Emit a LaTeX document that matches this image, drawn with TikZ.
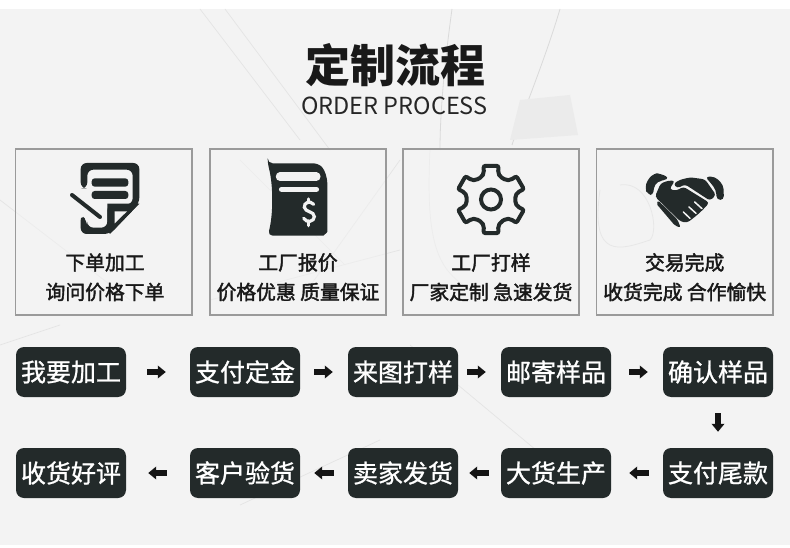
\documentclass[tikz,border=0pt]{standalone}
\usepackage{fontspec}
\usetikzlibrary{arrows.meta}
\newfontfamily\cjk{Noto Sans CJK SC}
\newfontfamily\cjkmed[FakeBold=2.0]{Noto Sans CJK SC}
\newfontfamily\cjkpill[FakeBold=1.0]{Noto Sans CJK SC}
\definecolor{ink}{HTML}{232A2A}
\definecolor{paper}{HTML}{F3F3F3}
\definecolor{boxline}{HTML}{9A9A9A}
\definecolor{sketch}{HTML}{E4E4E4}
\definecolor{sketchb}{HTML}{DADADA}
\definecolor{sketchc}{HTML}{EBEBEB}
\tikzset{
 card/.style={draw=boxline,line width=1.6pt,fill=paper,fill opacity=0.55,text opacity=1,minimum width=176.5pt,minimum height=166pt,inner sep=0pt},
 pill/.style={fill=ink,text=white,rounded corners=8pt,minimum width=110pt,minimum height=50pt,inner sep=0pt,font=\cjkpill\fontsize{25}{25}\selectfont},
 lab/.style={text=black!90,inner sep=0pt,font=\cjkmed\fontsize{19.8}{19.8}\selectfont},
 flow/.style={line width=5.4pt,draw=black!92,-{Triangle[length=8pt,width=12.5pt]}},
 sk/.style={draw=sketch,line width=0.7pt},
 skb/.style={draw=sketchb,line width=0.8pt},
 icon/.style={fill=ink,draw=none}
}
\begin{document}
\begin{tikzpicture}[x=1pt,y=-1pt]
\useasboundingbox (0,0) rectangle (790,548);
\fill[white] (0,0) rectangle (790,548);
\fill[paper] (0,9) rectangle (790,544.5);
% faint sketch in the background
\draw[sk] (200,9) -- (300,140) (225,9) -- (330,150);
\draw[skb] (452,9) .. controls (445,60) and (440,110) .. (440,150);
\draw[skb] (560,9) .. controls (545,60) and (520,120) .. (512,145);
\fill[sketchc] (520,100) -- (570,95) -- (578,135) -- (510,140) -- cycle;
\draw[sk] (400,160) -- (300,300) (210,300) -- (400,250) (240,160) -- (345,265);
\draw[sk] (430,150) .. controls (425,250) and (440,270) .. (470,290);
\draw[skb] (600,190) .. controls (590,260) and (620,250) .. (650,240) .. controls (660,230) and (650,180) .. (620,185);
\draw[sk] (0,345) -- (60,325) (380,440) -- (240,505) (410,345) -- (560,470);
\draw[sk] (0,200) -- (130,300);
% title
\node[inner sep=0pt,font=\cjk\bfseries\fontsize{45}{45}\selectfont,text=black!90] (title) at (395.5,65) {定制流程};
\node[inner sep=0pt,font=\cjk\fontsize{23.5}{23.5}\selectfont,text=black!85] (sub) at (394.5,106) {ORDER PROCESS};
% cards
\node[card] (c1) at (103.7,232) {};
\node[card] (c2) at (298,232) {};
\node[card] (c3) at (491,232) {};
\node[card] (c4) at (684.7,232) {};
\node[lab] (l1a) at (105,262.5) {下单加工};
\node[lab] (l1b) at (105,292) {询问价格下单};
\node[lab] (l2a) at (298,262.5) {工厂报价};
\node[lab] (l2b) at (298,292) {价格优惠 质量保证};
\node[lab] (l3a) at (491,262.5) {工厂打样};
\node[lab] (l3b) at (491,292) {厂家定制 急速发货};
\node[lab] (l4a) at (684.7,262.5) {交易完成};
\node[lab] (l4b) at (684.7,292) {收货完成 合作愉快};
% icon 1
\begin{scope}[shift={(60,155)},scale=1/3]
\fill[icon,rounded corners=6pt] (62,100) -- (62,24) -- (238,24) -- (238,145) -- (150,237) -- (62,237) -- (62,178) -- (82,198) -- (82,218) -- (142,218) -- (142,148) -- (218,148) -- (218,44) -- (82,44) -- (82,100) -- cycle;
\fill[icon] (142,146) -- (238,146) -- (150,237) -- (142,225) -- cycle;
\fill[paper] (164,205) -- (164,169) -- (201,169) -- cycle;
\fill[icon,rounded corners=3pt] (95,70) rectangle (205,95);
\fill[icon,rounded corners=3pt] (95,108) rectangle (205,132);
\draw[ink,line width=4pt,line cap=round] (36,120) -- (120,186);
\end{scope}
% icon 2
\begin{scope}[shift={(255,155)},scale=1/3]
\fill[icon,rounded corners=5pt] (38,25) -- (190,25) .. controls (210,45) and (217,70) .. (217,100) -- (217,215) .. controls (217,232) and (205,242) .. (190,242) -- (38,242) .. controls (55,180) and (55,90) .. (38,25) -- cycle;
\draw[white!95!black,line width=8.5pt,line cap=round] (75,65) -- (184,65);
\draw[white!95!black,line width=5.5pt,line cap=round] (80,103) -- (184,103);
\draw[white!95!black,line width=3.2pt,line cap=round] (176,148) .. controls (165,135) and (146,143) .. (148,157) .. controls (150,172) and (178,168) .. (178,185) .. controls (178,200) and (155,205) .. (146,190);
\draw[white!95!black,line width=3.2pt,line cap=round] (160,132) -- (160,142) (160,200) -- (160,212);
\end{scope}
% icon 3
\begin{scope}[shift={(491,199.5)}]
\draw[ink,line width=4pt,rounded corners=2pt] (66:24.5) \foreach \a in {90,150,210,270,330}{ -- (\a-15:27.5) -- (\a-12.5:34.5) -- (\a+12.5:34.5) -- (\a+15:27.5) -- (\a+22:24.5) -- (\a+38:24.5)} -- (375:27.5) -- (377.5:34.5) -- (402.5:34.5) -- (405:27.5) -- (412:24.5) -- cycle;
\draw[ink,line width=4pt] (0,0) circle (10);
\end{scope}
% icon 4
\begin{scope}[shift={(640,160)},scale=1/3]
\fill[icon,rounded corners=4pt] (15,85) -- (22,60) -- (42,40) -- (58,40) -- (88,53) -- (70,62) -- (52,64) -- (40,85) -- (40,107) -- (22,102) -- cycle;
\fill[icon,rounded corners=4pt] (195,50) -- (225,50) -- (250,75) -- (252,120) -- (230,120) -- (228,90) -- (210,66) -- cycle;
\fill[icon,rounded corners=3pt] (62,70) -- (85,62) -- (105,62) -- (88,88) -- (110,92) -- (130,80) -- (208,128) -- (188,150) -- (168,168) -- (142,188) -- (122,185) -- (45,110) -- cycle;
\fill[icon,rounded corners=3pt] (100,72) -- (118,60) -- (150,52) -- (195,58) -- (228,105) -- (210,122) -- (135,73) -- (112,85) -- cycle;
\fill[icon,rounded corners=2pt] (48,130) -- (55,122) -- (112,178) -- (122,203) -- (105,197) -- cycle;
\draw[paper,line width=1.5pt,line cap=round] (186,146) -- (164,126) (168,160) -- (147,141) (150,175) -- (130,156);
\end{scope}
% flow
\node[pill] (p1) at (71,372) {我要加工};
\node[pill] (p2) at (245,372) {支付定金};
\node[pill] (p3) at (403,372) {来图打样};
\node[pill] (p4) at (556,372) {邮寄样品};
\node[pill] (p5) at (718,372) {确认样品};
\node[pill] (p6) at (718,473) {支付尾款};
\node[pill] (p7) at (556,473) {大货生产};
\node[pill] (p8) at (403,473) {卖家发货};
\node[pill] (p9) at (245,473) {客户验货};
\node[pill] (p10) at (71,473) {收货好评};
\draw[flow] ([xshift=21pt]p1.east) -- ([xshift=-24pt]p2.west);
\draw[flow] ([xshift=14pt]p2.east) -- ([xshift=-15pt]p3.west);
\draw[flow] ([xshift=9pt]p3.east) -- ([xshift=-15pt]p4.west);
\draw[flow] ([xshift=18pt]p4.east) -- ([xshift=-15pt]p5.west);
\draw[flow] ([yshift=-16pt]p5.south) -- ([yshift=16pt]p6.north);
\draw[flow] ([xshift=-14pt]p6.west) -- ([xshift=18pt]p7.east);
\draw[flow] ([xshift=-12pt]p7.west) -- ([xshift=11pt]p8.east);
\draw[flow] ([xshift=-14pt]p8.west) -- ([xshift=14pt]p9.east);
\draw[flow] ([xshift=-23pt]p9.west) -- ([xshift=22pt]p10.east);
\end{tikzpicture}
\end{document}
